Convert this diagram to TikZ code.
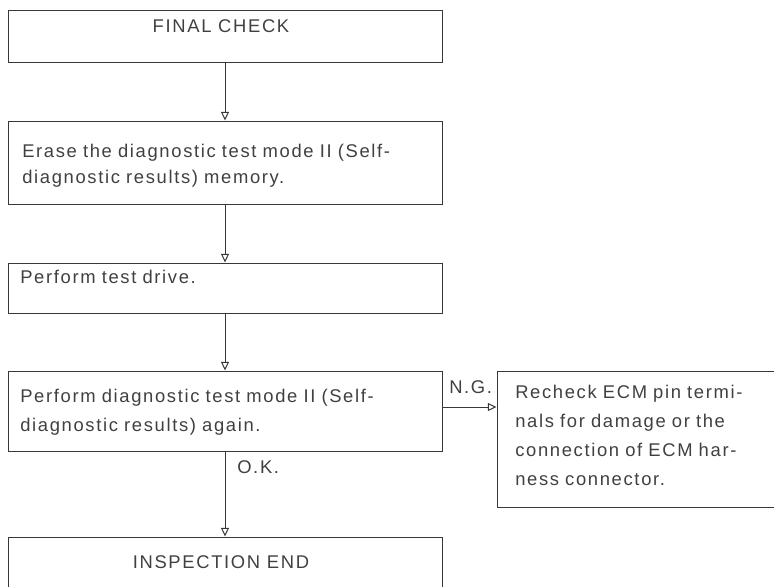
\documentclass[tikz,border=0pt]{standalone}
\usepackage{fontspec}
\setmainfont{Liberation Sans}[LetterSpace=9]
\usetikzlibrary{arrows.meta}
\definecolor{ink}{gray}{0.22}
\definecolor{txtc}{gray}{0.25}
\tikzset{
  box/.style={draw=ink, line width=0.75pt, rectangle, inner sep=0pt},
  lbl/.style={inner sep=0pt, text=txtc, font=\fontsize{13.8}{20.25}\selectfont},
  para/.style={lbl, anchor=base west, align=left, text width=300pt},
  arr/.style={draw=ink, line width=0.75pt, -{Triangle[open, length=6.5pt, width=6pt]}}
}
\begin{document}
\begin{tikzpicture}[x=0.75pt, y=-0.75pt]
\useasboundingbox (0,0) rectangle (774,586);
\clip (0,0) rectangle (774,586);
% boxes
\node[box, minimum width=325.5pt, minimum height=39pt] (b1) at (225,36) {};
\node[box, minimum width=325.5pt, minimum height=62.25pt] (b2) at (225,162.5) {};
\node[box, minimum width=325.5pt, minimum height=37.5pt] (b3) at (225,288) {};
\node[box, minimum width=325.5pt, minimum height=60pt] (b4) at (225,411) {};
\node[box, minimum width=325.5pt, minimum height=47.25pt] (b5) at (225,568.5) {};
\node[box, minimum width=212.25pt, minimum height=102pt] (b6) at (638.5,439) {};
% texts
\node[lbl, anchor=base] (t1) at (221,32) {FINAL CHECK};
\node[para, font=\fontsize{13.8}{19.5}\selectfont] (t2) at (22,157) {Erase the diagnostic test mode II (Self-\\diagnostic results) memory.};
\node[para] (t3) at (20,283) {Perform test drive.};
\node[para, font=\fontsize{13.8}{21.75}\selectfont] (t4) at (20,402) {Perform diagnostic test mode II (Self-\\diagnostic results) again.};
\node[lbl, anchor=base] (t5) at (221,568) {INSPECTION END};
\node[para, font=\fontsize{13.8}{21.75}\selectfont] (t6) at (515,398) {Recheck ECM pin termi-\\nals for damage or the\\connection of ECM har-\\ness connector.};
\node[lbl, anchor=base west] (ok) at (237,473) {O.K.};
\node[lbl, anchor=base west] (ng) at (449,393) {N.G.};
% connectors
\draw[arr] (b1.south) -- (b2.north);
\draw[arr] (b2.south) -- (b3.north);
\draw[arr] (b3.south) -- (b4.north);
\draw[arr] (b4.south) -- (b5.north);
\draw[arr] ([yshift=3pt]b4.east) -- ([yshift=3pt]b4.east -| b6.west);
\end{tikzpicture}
\end{document}
